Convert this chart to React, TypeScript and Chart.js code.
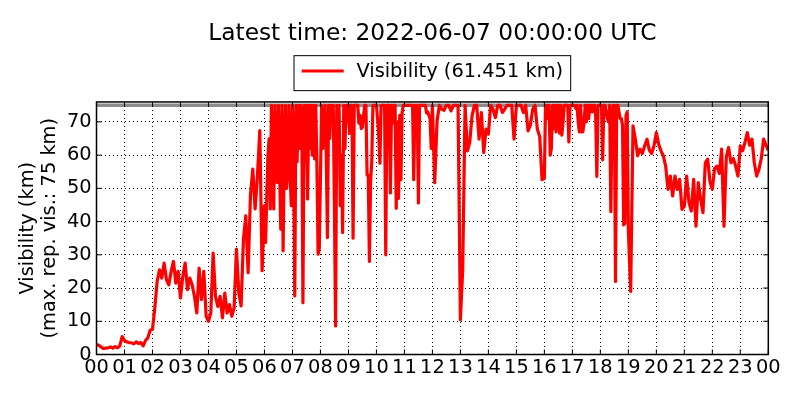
import React, { useEffect, useRef } from 'react';
import { Chart, registerables } from 'chart.js';

Chart.register(...registerables);

const TITLE = 'Latest time: 2022-06-07 00:00:00 UTC';
const SERIES_LABEL = 'Visibility (61.451 km)';
const Y_TITLE = ['Visibility (km)', '(max. rep. vis.: 75 km)'];
const MAX_REPORTED_VIS = 75;

const hourTickLabels = [
  '00', '01', '02', '03', '04', '05', '06', '07', '08', '09', '10', '11',
  '12', '13', '14', '15', '16', '17', '18', '19', '20', '21', '22', '23', '00',
];
const yTickValues = [0, 10, 20, 30, 40, 50, 60, 70];

// Visibility (km). 00:00-05:55, every 5 min
const visH00 = [3.0, 2.8, 2.2, 1.8, 1.9, 2.0, 2.3, 1.9, 2.4, 2.0, 2.6, 5.4];
const visH01 = [4.2, 3.8, 3.6, 3.5, 3.2, 3.8, 3.3, 3.6, 2.6, 4.2, 5.0, 7.3];
const visH02 = [7.6, 14, 22, 25.5, 23, 27.5, 22.5, 21, 25, 28, 21.5, 25];
const visH03 = [17, 23.5, 27.5, 19.5, 23, 21, 17.5, 12.5, 26, 16.5, 25, 11.5];
const visH04 = [10, 12.5, 30.5, 17.5, 14.5, 17.5, 11, 18.5, 12.5, 15, 11.5, 14];
const visH05 = [31.7, 18.6, 14.6, 34.7, 41.7, 24.6, 47.8, 55.8, 43.8, 53.8, 67.4, 25.2];
// 06:00-11:57.5, every 2.5 min
const visH06 = [44.8, 33.7, 47.8, 60, 64.9, 43.8, 75, 60, 43.8, 75, 60, 51.8, 75, 55, 37.7, 75, 31.2, 60, 75, 50, 54.8, 75, 54.8, 44.8];
const visH07 = [75, 60, 17.6, 75, 58, 75, 62, 75, 72, 15.6, 75, 58, 75, 46.8, 75, 62, 75, 60, 75, 58.9, 75, 56.8, 30.2, 31.7];
const visH08 = [52.8, 75, 62, 71, 75, 60, 35.2, 75, 65, 75, 70, 75, 43.8, 8.6, 75, 62, 75, 44.8, 60, 36.7, 75, 61.9, 75, 70];
const visH09 = [75, 66.6, 75, 75, 35, 75, 75, 75, 75, 69.6, 72, 68, 68.5, 72, 75, 75, 54, 54, 28, 52, 58, 75, 75, 75];
const visH10 = [75, 71, 66, 57.6, 75, 75, 75, 75, 30, 75, 75, 75, 48.6, 75, 69.6, 75, 75, 44, 70, 47, 72, 52.6, 72.7, 75];
const visH11 = [75, 75, 75, 75, 75, 75, 75, 75, 52.6, 75, 75, 75, 45.6, 75, 75, 75, 75, 75, 75, 72.7, 73, 72, 71, 62];
// 12:00-15:55, every 5 min
const visH12 = [75, 51.7, 70.3, 75, 73.8, 73.5, 75, 75, 73.3, 75, 75, 75];
const visH13 = [10.5, 25.6, 75, 61.3, 63.8, 71.8, 75, 75, 64.8, 72.8, 60.8, 67.8];
const visH14 = [66.3, 75, 73.8, 71.3, 75, 75, 72.8, 73.8, 75, 75, 75, 64.8];
const visH15 = [75, 75, 75, 72.8, 75, 67.3, 69, 73.8, 75, 67.8, 65.6, 52.6];
// 16:00-18:57.5, every 2.5 min
const visH16 = [53, 75, 75, 71, 75, 60, 62, 75, 68, 75, 67, 75, 75, 66.6, 75, 66, 70, 75, 75, 75, 75, 64, 75, 75];
const visH17 = [75, 75, 75, 74, 75, 70, 67, 75, 67, 67, 69.6, 75, 70, 75, 71, 75, 75, 73, 75, 75, 72, 53.6, 75, 75];
const visH18 = [75, 75, 58.6, 75, 75, 73, 71, 70, 75, 43, 71, 75, 75, 22, 75, 75, 73, 71, 71, 69, 39, 39.5, 72, 73];
// 19:00-24:00, every 5 min
const visH19 = [37.6, 19, 68.8, 64.8, 59.8, 61.8, 60.5, 62.8, 64.8, 61.5, 60.5, 62.8];
const visH20 = [66.8, 63.3, 61.3, 59.8, 56.7, 49.7, 53.7, 47.7, 53.7, 49.7, 52.7, 43.7];
const visH21 = [44.6, 53.7, 45.7, 43.2, 52.7, 38.6, 51.7, 46.7, 42.7, 57.7, 58.8, 52];
const visH22 = [49.7, 56, 56.7, 54.5, 61.8, 38.6, 59.5, 62.3, 57.7, 59, 56.7, 53.7];
const visH23 = [62.8, 61.3, 63.8, 66.8, 63, 64.8, 57.7, 53.7, 55.7, 59, 64.8, 63];
const visEnd = [61.451];

const segment = (startHour: number, stepMinutes: number, values: number[]) =>
  values.map((v, i) => ({ x: startHour + (i * stepMinutes) / 60, y: v }));

const FONT = 'DejaVu Sans';
const BASE_SIZE = 19.4;

const framePlugin = {
  id: 'mplFrame',
  afterDatasetsDraw(chart: any) {
    const { ctx, chartArea: a, scales } = chart;
    const tick = 5;
    ctx.save();
    ctx.strokeStyle = '#000';
    ctx.lineWidth = 1;
    ctx.setLineDash([]);
    ctx.beginPath();
    scales.x.ticks.forEach((t: any) => {
      const px = scales.x.getPixelForValue(t.value);
      ctx.moveTo(px, a.bottom);
      ctx.lineTo(px, a.bottom - tick);
      ctx.moveTo(px, a.top);
      ctx.lineTo(px, a.top + tick);
    });
    scales.y.ticks.forEach((t: any) => {
      const py = scales.y.getPixelForValue(t.value);
      ctx.moveTo(a.left, py);
      ctx.lineTo(a.left + tick, py);
      ctx.moveTo(a.right, py);
      ctx.lineTo(a.right - tick, py);
    });
    ctx.stroke();
    ctx.lineWidth = 1.5;
    ctx.strokeRect(a.left, a.top, a.right - a.left, a.bottom - a.top);
    ctx.restore();
  },
  afterDraw(chart: any) {
    const legend = chart.legend;
    if (!legend || !legend.legendHitBoxes || !legend.legendHitBoxes.length) return;
    const hb = legend.legendHitBoxes[0];
    const { ctx } = chart;
    ctx.save();
    ctx.setLineDash([]);
    ctx.strokeStyle = '#ff0000';
    ctx.lineWidth = 3;
    ctx.beginPath();
    ctx.moveTo(hb.left, hb.top + 19.8);
    ctx.lineTo(hb.left + 42, hb.top + 19.8);
    ctx.stroke();
    ctx.strokeStyle = '#000';
    ctx.lineWidth = 1;
    ctx.strokeRect(hb.left - 7.7, hb.top + 4.5, hb.width + 15.3, 35);
    ctx.restore();
  },
};

export default function App() {
  const canvasRef = useRef<HTMLCanvasElement | null>(null);

  useEffect(() => {
    document.body.style.margin = '0';
    const canvas = canvasRef.current;
    if (!canvas) return;

    const points = [
      ...segment(0, 5, [...visH00, ...visH01, ...visH02, ...visH03, ...visH04, ...visH05]),
      ...segment(6, 2.5, [...visH06, ...visH07, ...visH08, ...visH09, ...visH10, ...visH11]),
      ...segment(12, 5, [...visH12, ...visH13, ...visH14, ...visH15]),
      ...segment(16, 2.5, [...visH16, ...visH17, ...visH18]),
      ...segment(19, 5, [...visH19, ...visH20, ...visH21, ...visH22, ...visH23, ...visEnd]),
    ];
    const maxLine = [
      { x: 0, y: MAX_REPORTED_VIS },
      { x: 24, y: MAX_REPORTED_VIS },
    ];

    const tickFont = { family: FONT, size: BASE_SIZE, weight: 'normal' as const };

    const chart = new Chart(canvas, {
      type: 'line',
      data: {
        datasets: [
          {
            label: SERIES_LABEL,
            data: points,
            borderColor: '#ff0000',
            backgroundColor: '#ff0000',
            borderWidth: 3.2,
            pointRadius: 0,
            tension: 0,
            fill: false,
            borderJoinStyle: 'round',
          },
          {
            label: 'max',
            data: maxLine,
            borderColor: '#8c8c8c',
            backgroundColor: '#8c8c8c',
            borderWidth: 3.5,
            pointRadius: 0,
            fill: false,
          },
        ],
      },
      options: {
        responsive: false,
        animation: false,
        events: [],
        devicePixelRatio: 1,
        layout: { padding: { left: 0, right: 31.7, top: 0, bottom: 0 } },
        plugins: {
          title: {
            display: true,
            text: TITLE,
            fullSize: false,
            color: '#000',
            font: { family: FONT, size: 23.3, weight: 'normal', lineHeight: 1.2 },
            padding: { top: 20.2, bottom: 0 },
          },
          legend: {
            display: true,
            position: 'top',
            fullSize: false,
            labels: {
              color: '#000',
              font: { family: FONT, size: BASE_SIZE, weight: 'normal' },
              boxWidth: 45,
              boxHeight: 40.8,
              padding: 3,
              generateLabels: () => [
                {
                  text: SERIES_LABEL,
                  fillStyle: 'rgba(0,0,0,0)',
                  strokeStyle: 'rgba(0,0,0,0)',
                  lineWidth: 0,
                  hidden: false,
                  datasetIndex: 0,
                  fontColor: '#000',
                },
              ],
            },
          },
          tooltip: { enabled: false },
        },
        scales: {
          x: {
            type: 'linear',
            min: 0,
            max: 24,
            afterBuildTicks: (s: any) => {
              s.ticks = hourTickLabels.map((_, i) => ({ value: i }));
            },
            afterFit: (s: any) => {
              s.height = 45.5;
            },
            ticks: {
              autoSkip: false,
              maxRotation: 0,
              minRotation: 0,
              padding: 2.2,
              color: '#000',
              font: tickFont,
              callback: (_v: any, i: number) => hourTickLabels[i],
            },
            grid: { color: '#000', lineWidth: 1, drawTicks: false },
            border: { display: false, dash: [1, 3] },
          },
          y: {
            type: 'linear',
            min: 0,
            max: 76,
            afterBuildTicks: (s: any) => {
              s.ticks = yTickValues.map((v) => ({ value: v }));
            },
            afterFit: (s: any) => {
              s.width = 96.5;
            },
            ticks: {
              padding: 4.8,
              color: '#000',
              font: tickFont,
              callback: (v: any) => String(v),
            },
            grid: { color: '#000', lineWidth: 1, drawTicks: false },
            border: { display: false, dash: [1, 3] },
            title: {
              display: true,
              text: Y_TITLE,
              color: '#000',
              font: { family: FONT, size: BASE_SIZE, weight: 'normal', lineHeight: 1.12 },
              padding: { top: 17.4, bottom: 0 },
            },
          },
        },
      },
      plugins: [framePlugin],
    } as any);

    return () => {
      chart.destroy();
    };
  }, []);

  return (
    <div style={{ position: 'absolute', left: 0, top: 0, width: 800, height: 400, background: '#fff' }}>
      <canvas ref={canvasRef} width={800} height={400} style={{ display: 'block', width: 800, height: 400 }} />
    </div>
  );
}
